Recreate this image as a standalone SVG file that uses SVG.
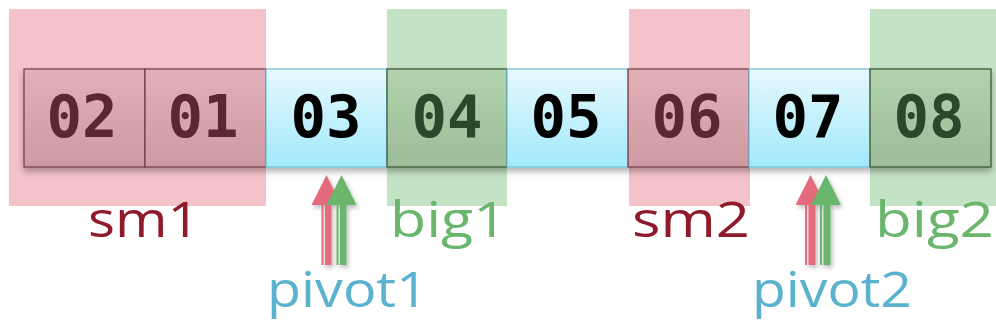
<svg xmlns="http://www.w3.org/2000/svg" width="996" height="332" viewBox="0 0 996 332">
<defs>
<linearGradient id="gBlue" x1="0" y1="0" x2="0" y2="1"><stop offset="0" stop-color="#e6f9fe"/><stop offset="1" stop-color="#a2e9fb"/></linearGradient>
<linearGradient id="gPink" x1="0" y1="0" x2="0" y2="1"><stop offset="0" stop-color="#e2b0b8"/><stop offset="1" stop-color="#cf9aa2"/></linearGradient>
<linearGradient id="gGreen" x1="0" y1="0" x2="0" y2="1"><stop offset="0" stop-color="#b0d2ad"/><stop offset="1" stop-color="#9cbd98"/></linearGradient>
<filter id="sh" x="-10%" y="-20%" width="120%" height="150%"><feDropShadow dx="0" dy="4" stdDeviation="3" flood-color="#000" flood-opacity="0.3"/></filter>
<filter id="ash" x="-50%" y="-20%" width="200%" height="140%"><feDropShadow dx="2" dy="3" stdDeviation="2" flood-color="#000" flood-opacity="0.25"/></filter>
</defs>
<style>
.num{font-family:"DejaVu Sans Mono","Liberation Mono",monospace;font-weight:bold;font-size:59px;text-anchor:middle}
.lbl{font-family:"Comic Sans MS","Open Sans","DejaVu Sans",sans-serif;font-size:50px}
.blue{fill:url(#gBlue);stroke:#6fc0d4;stroke-width:1.2}
.pink{fill:url(#gPink);stroke:#6e3a44;stroke-width:1.2}
.green{fill:url(#gGreen);stroke:#34502f;stroke-width:1.2}
</style>
<g id="highlights">
<rect x="9" y="9" width="257" height="197" fill="#f4c2c9"/>
<rect x="387" y="9" width="120" height="197" fill="#c4e2c4"/>
<rect x="629" y="9" width="121" height="197" fill="#f4c2c9"/>
<rect x="870" y="9" width="126" height="197" fill="#c4e2c4"/>
</g>
<g id="cells" filter="url(#sh)">
<g id="c1"><rect class="pink" x="24" y="69" width="121" height="98"/><text class="num" x="82" y="137" fill="#5c2630">02</text></g>
<g id="c2"><rect class="pink" x="145" y="69" width="121" height="98"/><text class="num" x="203" y="137" fill="#5c2630">01</text></g>
<g id="c3"><rect class="blue" x="266" y="69" width="121" height="98"/><text class="num" x="326" y="137" fill="#000">03</text></g>
<g id="c4"><rect class="green" x="387" y="69" width="120" height="98"/><text class="num" x="447" y="137" fill="#2a4a29">04</text></g>
<g id="c5"><rect class="blue" x="507" y="69" width="121" height="98"/><text class="num" x="566" y="137" fill="#000">05</text></g>
<g id="c6"><rect class="pink" x="628" y="69" width="121" height="98"/><text class="num" x="687" y="137" fill="#5c2630">06</text></g>
<g id="c7"><rect class="blue" x="749" y="69" width="121" height="98"/><text class="num" x="808" y="137" fill="#000">07</text></g>
<g id="c8"><rect class="green" x="870" y="69" width="121" height="98"/><text class="num" x="929" y="137" fill="#2a4a29">08</text></g>
</g>
<g id="connectors" filter="url(#ash)">
<g fill="#e56a7c">
<polygon points="326.5,175 311.5,205 341.5,205"/><rect x="321.5" y="205" width="2" height="60"/><rect x="325" y="205" width="6.5" height="60"/>
<polygon points="810.5,175 795.5,205 825.5,205"/><rect x="805" y="205" width="2" height="60"/><rect x="808.5" y="205" width="7" height="60"/>
</g>
<g fill="#6ab66c">
<polygon points="341.5,175 326.5,205 356.5,205"/><rect x="336.5" y="205" width="2" height="60"/><rect x="340" y="205" width="6.5" height="60"/>
<polygon points="826,175 811,205 841,205"/><rect x="820" y="205" width="2" height="60"/><rect x="823.5" y="205" width="7" height="60"/>
</g>
</g>
<g id="labels">
<text class="lbl" x="88" y="237" fill="#8e1b2c" textLength="112" lengthAdjust="spacingAndGlyphs">sm1</text>
<text class="lbl" x="390" y="237" fill="#6ab66c" textLength="117" lengthAdjust="spacingAndGlyphs">big1</text>
<text class="lbl" x="632" y="237" fill="#8e1b2c" textLength="118" lengthAdjust="spacingAndGlyphs">sm2</text>
<text class="lbl" x="875" y="237" fill="#6ab66c" textLength="119" lengthAdjust="spacingAndGlyphs">big2</text>
<text class="lbl" x="267" y="307" fill="#5ab2cf" textLength="161" lengthAdjust="spacingAndGlyphs">pivot1</text>
<text class="lbl" x="752" y="307" fill="#5ab2cf" textLength="160" lengthAdjust="spacingAndGlyphs">pivot2</text>
</g>
</svg>
